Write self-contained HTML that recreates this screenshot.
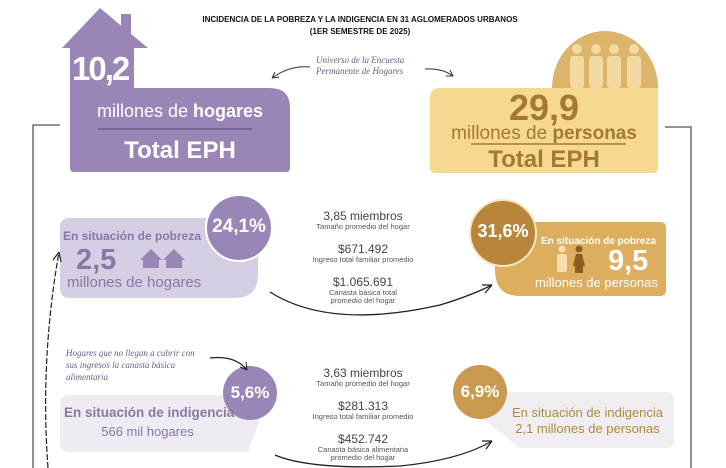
<!DOCTYPE html>
<html><head><meta charset="utf-8"><style>
body{margin:0;width:726px;height:468px;overflow:hidden;background:#fff;font-family:"Liberation Sans",sans-serif;position:relative}
.a{position:absolute;white-space:nowrap}
.c{text-align:center}
.ser{font-family:"Liberation Serif",serif;font-style:italic;color:#6a5d80;font-size:9px;line-height:11px}
.m1{font-size:12px;color:#444}
.m2{font-size:7.5px;color:#555;line-height:8px}
</style></head><body>
<svg class="a" style="left:0;top:0" width="726" height="468">
<polygon points="62,48 100,8 148,48" fill="#9a86b6"/>
<rect x="121" y="14" width="10" height="22" fill="#9a86b6"/>
<rect x="70" y="46" width="64" height="44" fill="#9a86b6"/>
<path d="M70,88 H270 Q290,88 290,108 V168 Q290,172 286,172 H74 Q70,172 70,168 Z" fill="#9a86b6"/>
<line x1="98" y1="129" x2="252" y2="129" stroke="#6e5c8c" stroke-width="1.5"/>
<path d="M552,88 A53,57 0 0 1 658,88 Z" fill="#dcb46a"/>
<path d="M440,88 H658 V168 Q658,173 653,173 H435 Q430,173 430,168 V98 Q430,88 440,88 Z" fill="#f5d990"/>
<line x1="471" y1="144" x2="626" y2="144" stroke="#a57a30" stroke-width="1.5"/>
<g fill="#f3d9a2">
<circle cx="577" cy="49" r="5"/><rect x="570" y="56" width="14" height="32" rx="3"/>
<circle cx="596" cy="49" r="5"/><rect x="589" y="56" width="14" height="32" rx="3"/>
<circle cx="614" cy="49" r="5"/><rect x="607" y="56" width="14" height="32" rx="3"/>
<circle cx="634" cy="49" r="5"/><rect x="627" y="56" width="14" height="32" rx="3"/>
</g>
<polyline points="60,125 33,125 33,468" fill="none" stroke="#555" stroke-width="1.3"/>
<polyline points="665,127 691,127 691,468" fill="none" stroke="#555" stroke-width="1.3"/>
<path d="M310,67 Q290,65 272,78" fill="none" stroke="#333" stroke-width="1"/>
<path d="M272,78 l7,-1 M272,78 l3,-6" stroke="#333"/>
<path d="M425,69 Q442,68 453,76" fill="none" stroke="#333" stroke-width="1"/>
<path d="M453,76 l-7,0 M453,76 l-3,-6" stroke="#333"/>
<path d="M70,218 H258 V275 Q258,298 235,298 H70 Q60,298 60,288 V228 Q60,218 70,218 Z" fill="#d6cfe3"/>
<circle cx="239" cy="228" r="33" fill="#9a86b6" stroke="#fff" stroke-width="2"/>
<g fill="#9a86b6"><polygon points="140,260 151,249 162,260"/><rect x="143" y="259" width="16" height="9"/>
<polygon points="163,260 174,249 185,260"/><rect x="166" y="259" width="16" height="9"/></g>
<path d="M505,222 H660 Q666,222 666,228 V290 Q666,296 660,296 H520 Q495,296 495,270 V222 Z" fill="#dcae5e"/>
<circle cx="503" cy="233" r="33" fill="#b8863a" stroke="#f7e6c0" stroke-width="2"/>
<circle cx="562" cy="249" r="3.5" fill="#f6deb0"/><rect x="557" y="254" width="10" height="18" rx="2" fill="#f6deb0"/>
<circle cx="579" cy="249" r="3.5" fill="#8a5e22"/><path d="M573,266 L576,254 H582 L585,266 Z" fill="#8a5e22"/><rect x="575" y="265" width="8" height="8" fill="#8a5e22"/>
<path d="M70,395 H248 L262,413 L248,452 H70 Q60,452 60,442 V405 Q60,395 70,395 Z" fill="#eeebf3"/>
<circle cx="250" cy="393" r="27" fill="#9a86b6"/>
<path d="M490,392 H666 Q674,392 674,400 V440 Q674,448 666,448 H520 L478,415 Z" fill="#f0eef3"/>
<circle cx="480" cy="392" r="27" fill="#c9994f"/>
<path d="M270,292 Q330,330 440,305 Q470,296 492,285" fill="none" stroke="#222" stroke-width="1.3"/>
<path d="M492,285 l-10,0 M492,285 l-7,8" stroke="#222" stroke-width="1.3"/>
<path d="M275,455 Q310,470 400,466 Q460,460 492,441" fill="none" stroke="#222" stroke-width="1.3"/>
<path d="M492,441 l-10,0 M492,441 l-6,8" stroke="#222" stroke-width="1.3"/>
<path d="M48,468 Q40,360 59,252" fill="none" stroke="#222" stroke-width="1.2" stroke-dasharray="6,2"/>
<path d="M59,252 l-6,8 M59,252 l2,10" stroke="#222" stroke-width="1.2"/>
<path d="M210,358 Q235,355 247,370" fill="none" stroke="#222" stroke-width="1.2"/>
<path d="M247,370 l-1,-8 M247,370 l-7,-3" stroke="#222"/>
</svg>

<div class="a c" style="left:140px;top:14px;width:440px;font-size:8px;font-weight:bold;line-height:12px;color:#111">INCIDENCIA DE LA POBREZA Y LA INDIGENCIA EN 31 AGLOMERADOS URBANOS<br>(1ER SEMESTRE DE 2025)</div>
<div class="a ser" style="left:316px;top:55px">Universo de la Encuesta<br>Permanente de Hogares</div>

<div class="a" style="left:72px;top:50px;font-size:33px;font-weight:bold;color:#fff;letter-spacing:-2px">10,2</div>
<div class="a c" style="left:70px;top:101px;width:220px;font-size:18px;color:#fff">millones de <b>hogares</b></div>
<div class="a c" style="left:70px;top:137px;width:220px;font-size:24px;font-weight:bold;color:#fff">Total EPH</div>

<div class="a c" style="left:430px;top:89px;width:228px;font-size:36px;font-weight:bold;color:#a57a30;line-height:38px">29,9</div>
<div class="a c" style="left:430px;top:123px;width:228px;font-size:19px;color:#a57a30">millones de <b>personas</b></div>
<div class="a c" style="left:430px;top:146px;width:228px;font-size:24px;font-weight:bold;color:#a57a30">Total EPH</div>

<div class="a" style="left:63px;top:229px;font-size:12px;font-weight:bold;color:#8a77a8">En situación de pobreza</div>
<div class="a c" style="left:206px;top:216px;width:66px;font-size:19px;font-weight:bold;color:#fff">24,1%</div>
<div class="a" style="left:76px;top:244px;font-size:29px;font-weight:bold;color:#8a77a8">2,5</div>
<div class="a" style="left:67px;top:274px;font-size:15px;color:#8a77a8">millones de hogares</div>

<div class="a c" style="left:290px;top:209px;width:146px">
<div class="m1">3,85 miembros</div><div class="m2">Tamaño promedio del hogar</div>
<div class="m1" style="margin-top:11px">$671.492</div><div class="m2">Ingreso total familiar promedio</div>
<div class="m1" style="margin-top:11px">$1.065.691</div><div class="m2">Canasta básica total<br>promedio del hogar</div></div>

<div class="a c" style="left:470px;top:221px;width:66px;font-size:18px;font-weight:bold;color:#fff">31,6%</div>
<div class="a" style="left:541px;top:236px;font-size:10px;font-weight:bold;color:#fff">En situación de pobreza</div>
<div class="a" style="left:608px;top:245px;font-size:29px;font-weight:bold;color:#fff">9,5</div>
<div class="a" style="left:535px;top:275px;font-size:13px;color:#fff">millones de personas</div>

<div class="a ser" style="left:66px;top:347px;line-height:12px">Hogares que no llegan a cubrir con<br>sus ingresos la canasta básica<br>alimentaria</div>
<div class="a c" style="left:223px;top:383px;width:54px;font-size:17px;font-weight:bold;color:#fff">5,6%</div>
<div class="a" style="left:64px;top:405px;font-size:13.5px;font-weight:bold;color:#8a77a8">En situación de indigencia</div>
<div class="a c" style="left:64px;top:424px;width:167px;font-size:13px;color:#8a77a8">566 mil hogares</div>

<div class="a c" style="left:290px;top:366px;width:146px">
<div class="m1">3,63 miembros</div><div class="m2">Tamaño promedio del hogar</div>
<div class="m1" style="margin-top:11px">$281.313</div><div class="m2">Ingreso total familiar promedio</div>
<div class="m1" style="margin-top:11px">$452.742</div><div class="m2">Canasta básica alimentaria<br>promedio del hogar</div></div>

<div class="a c" style="left:453px;top:382px;width:54px;font-size:17px;font-weight:bold;color:#fff">6,9%</div>
<div class="a c" style="left:505px;top:405px;width:165px;font-size:13px;color:#b08a3c;line-height:16px">En situación de indigencia<br>2,1 millones de personas</div>
</body></html>
